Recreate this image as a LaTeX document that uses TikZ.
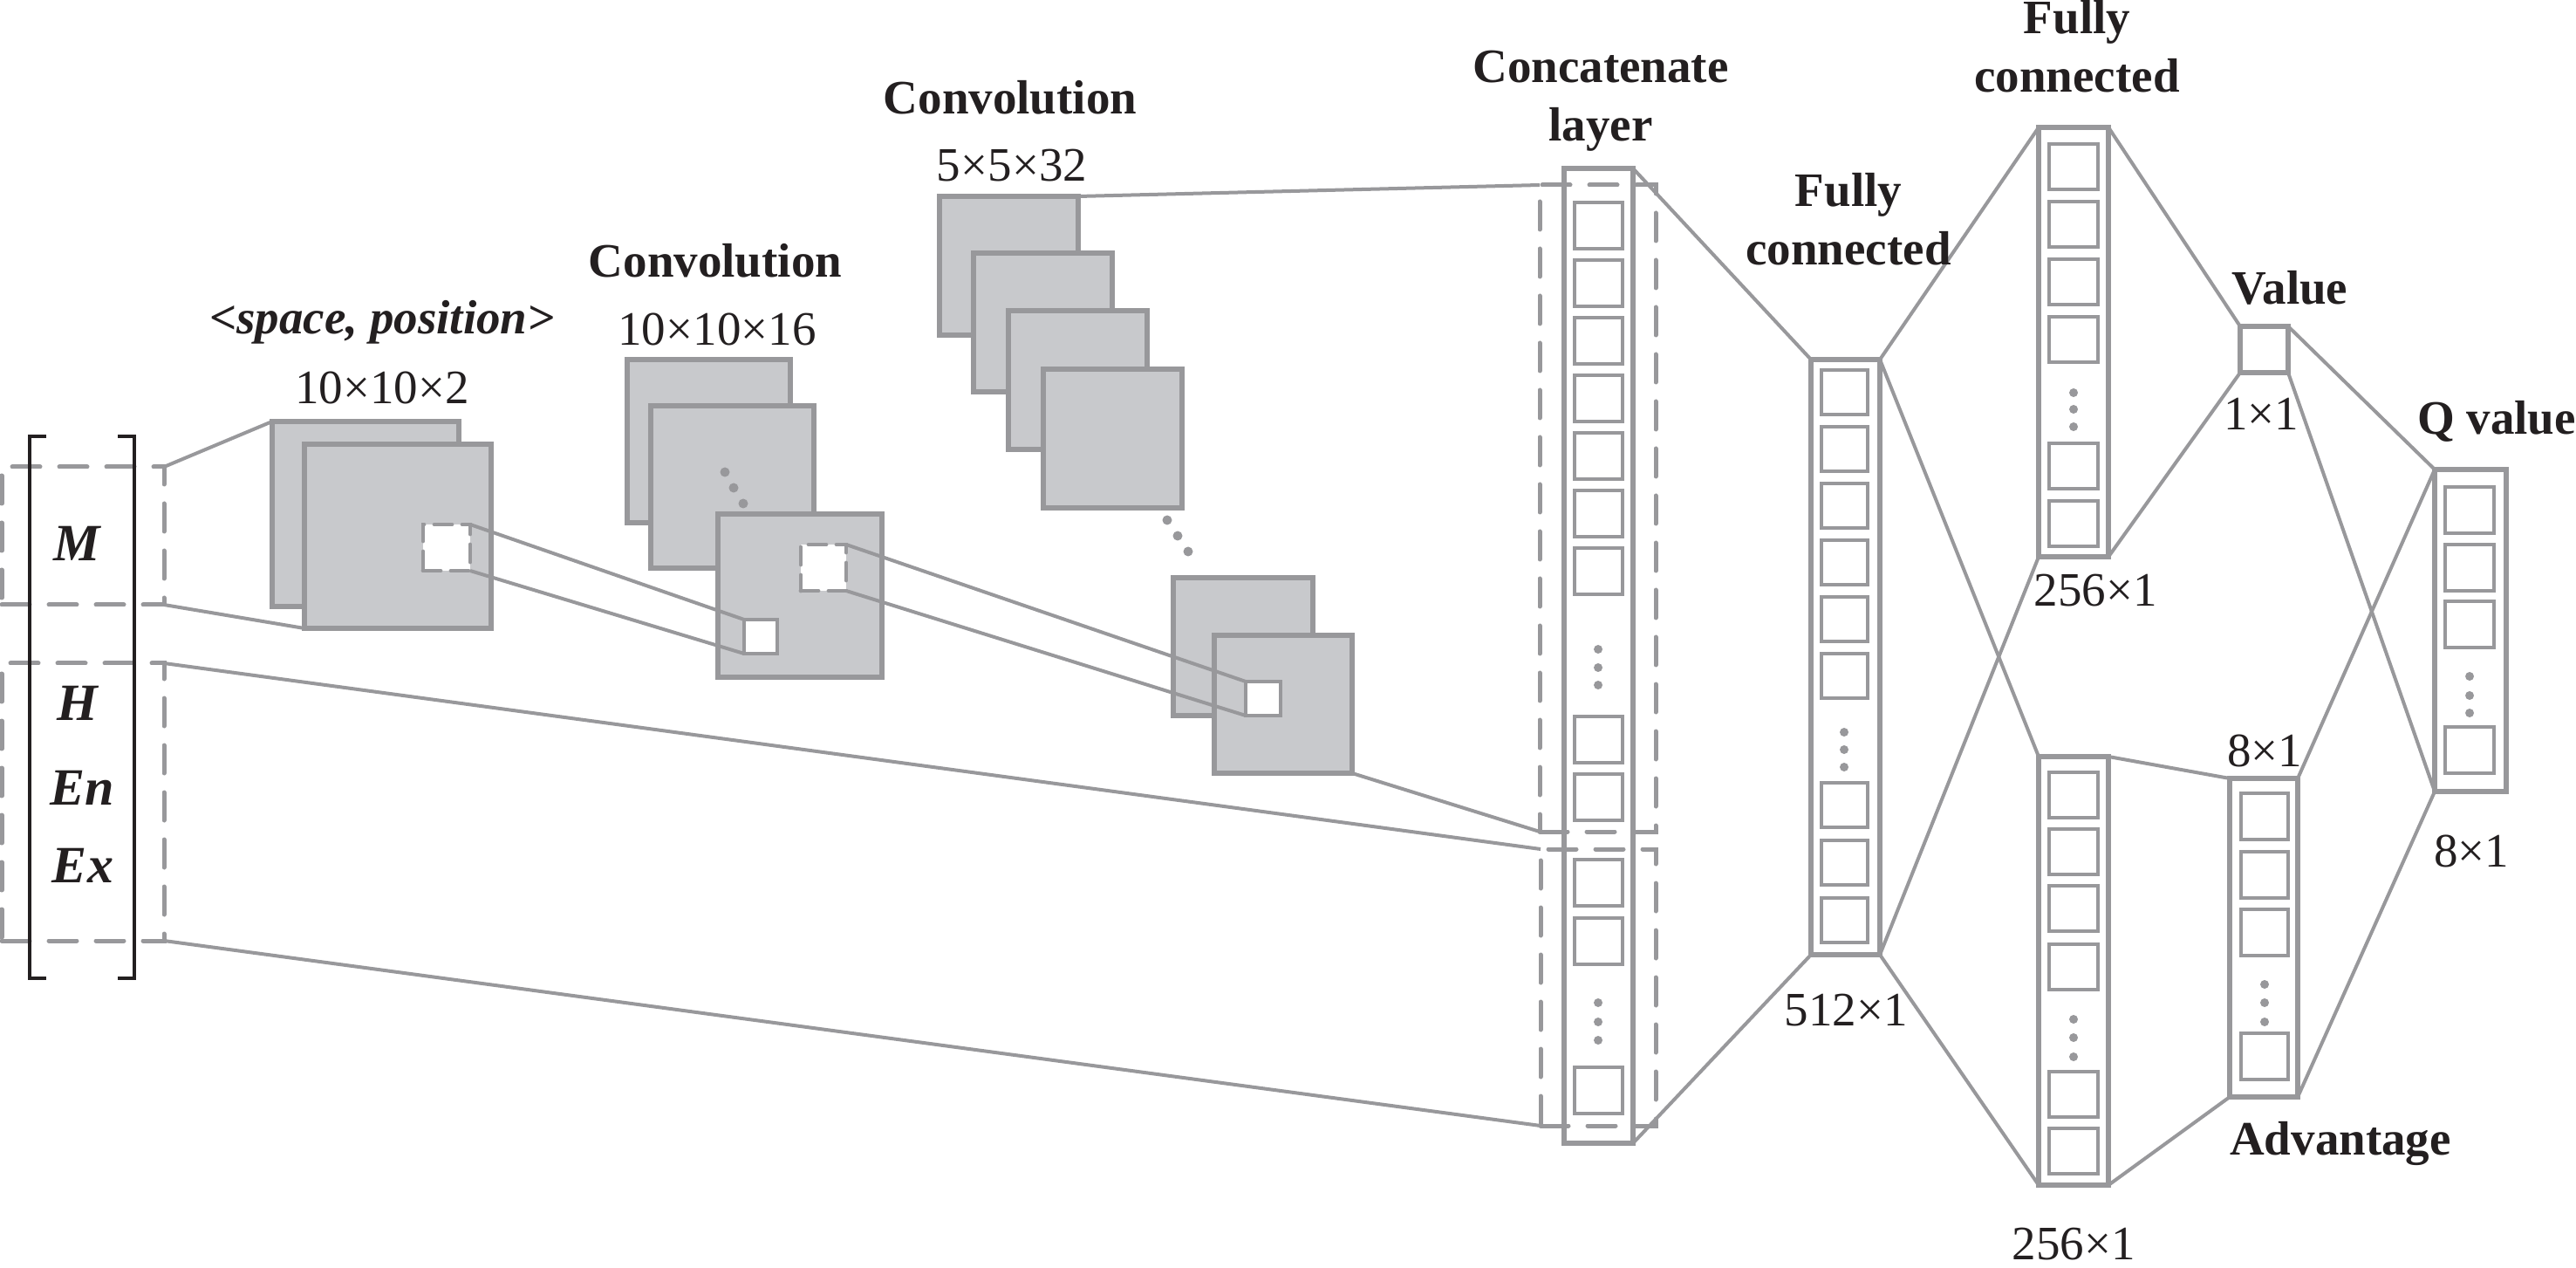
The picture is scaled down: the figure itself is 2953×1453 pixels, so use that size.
\documentclass[tikz,border=0pt]{standalone}
\usepackage{fontspec}
\setmainfont{Liberation Serif}
\usetikzlibrary{fit}
\definecolor{lgray}{RGB}{152,152,155}
\definecolor{mfill}{RGB}{200,201,204}
\definecolor{ink}{RGB}{35,31,32}
\tikzset{every picture/.style={line width=1pt}}

\begin{document}
\begin{tikzpicture}[x=0.25pt,y=0.25pt,yscale=-1,xscale=1,
  conn/.style={draw=lgray,line width=1pt},
  fmap/.style={draw=lgray,fill=mfill,line width=1.3pt,inner sep=0pt,outer sep=0pt},
  col/.style={draw=lgray,fill=white,line width=1.5pt,inner sep=0pt,outer sep=0pt},
  cell/.style={draw=lgray,fill=white,line width=1pt,inner sep=0pt,outer sep=0pt},
  dbox/.style={draw=lgray,line width=1.25pt,line cap=round,dash pattern=on 8pt off 5.5pt,inner sep=0pt,outer sep=0pt},
  win/.style={draw=lgray,fill=white,line width=1.2pt,inner sep=0pt,outer sep=0pt},
  dwin/.style={win,line cap=round,dash pattern=on 5pt off 3pt},
  lbl/.style={text=ink,inner sep=0pt,font=\fontsize{13.75}{16.75}\selectfont},
  ttl/.style={lbl,align=center,font=\fontsize{13.75}{16.75}\selectfont\bfseries},
  sym/.style={lbl,font=\fontsize{15}{18}\selectfont\bfseries\itshape},
]
%uncomment if require: \path (0,1453); %set diagram left start at 0, and has height of 1453
\useasboundingbox (0,0) rectangle (2953,1453);

% Input groups and bracket
\node[dbox, fit={(2,535) (188,693)}] (mbox) {};
\node[dbox, fit={(2,760) (188,1078)}] (hbox) {};
\draw[ink, line width=1pt] (53,500) -- (34,500) -- (34,1121) -- (53,1121);
\draw[ink, line width=1pt] (135,500) -- (154,500) -- (154,1121) -- (135,1121);
\node[sym] (tM) at (88,623) {M};
\node[sym] (tH) at (89,806) {H};
\node[sym] (tEn) at (94,903) {En};
\node[sym] (tEx) at (95,992) {Ex};

% space, position maps
\node[fmap, fit={(312,483) (526,695)}] (in1b) {};
\node[fmap, fit={(349,509) (563,720)}] (in1f) {};
\node[dwin, fit={(485,601) (539,654)}] (in1w) {};

% Convolution 10x10x16
\node[fmap, fit={(719,412) (906,599)}] (c1a) {};
\node[fmap, fit={(746,465) (933,651)}] (c1b) {};
\foreach \x/\y in {831/541,841/559,852/577} \fill[lgray] (\x,\y) circle (5.5);
\node[fmap, fit={(823,589) (1011,776)}] (c1f) {};
\node[win, fit={(853,710) (891,749)}] (c1v) {};
\node[dwin, fit={(918,624) (970,677)}] (c1w) {};

% Convolution 5x5x32
\foreach \i/\x/\y in {1/1077/225,2/1116/290,3/1156/356,4/1196/423}
  \node[fmap, fit={(\x,\y) (\x+159,\y+159)}] (c2m\i) {};
\foreach \x/\y in {1338/596,1350/614,1362/632} \fill[lgray] (\x,\y) circle (5.5);
\node[fmap, fit={(1345,662) (1505,820)}] (c2e) {};
\node[fmap, fit={(1392,728) (1550,886)}] (c2f) {};
\node[win, fit={(1428,781) (1468,820)}] (c2v) {};

% Concatenate layer
\node[col, fit={(1793,193) (1872,1310)}] (cat) {};
\foreach \y in {232,298,364,430,496,562,628,821,887,985,1052,1223}
  \node[cell, fit={(1805,\y) (1860,\y+53)}] (cat\y) {};
\foreach \y in {744,765,785,1149,1171,1192} \fill[lgray] (1832,\y) circle (5);
\node[dbox, fit={(1765,212) (1898,953)}] (catup) {};
\node[dbox, fit={(1766,973) (1898,1290)}] (catlo) {};

% Fully connected 512
\node[col, fit={(2076,412) (2155,1094)}] (fc1) {};
\foreach \y in {424,489,554,619,684,749,897,963,1029}
  \node[cell, fit={(2088,\y) (2141,\y+51)}] (fc1\y) {};
\foreach \y in {839,859,879} \fill[lgray] (2114,\y) circle (5);

% Fully connected 256 (value stream)
\node[col, fit={(2337,146) (2417,638)}] (fc2) {};
\foreach \y in {165,231,297,363,508,574}
  \node[cell, fit={(2349,\y) (2405,\y+52)}] (fc2\y) {};
\foreach \y in {450,469,489} \fill[lgray] (2377,\y) circle (5);

% Fully connected 256 (advantage stream)
\node[col, fit={(2337,867) (2417,1358)}] (fc3) {};
\foreach \y in {885,950,1015,1082,1228,1293}
  \node[cell, fit={(2349,\y) (2405,\y+52)}] (fc3\y) {};
\foreach \y in {1168,1189,1211} \fill[lgray] (2377,\y) circle (5);

% Value, Advantage, Q value
\node[col, fit={(2568,374) (2623,427)}] (val) {};
\node[col, fit={(2556,892) (2634,1257)}] (adv) {};
\foreach \y in {909,976,1042,1184}
  \node[cell, fit={(2569,\y) (2623,\y+53)}] (adv\y) {};
\foreach \y in {1128,1149,1171} \fill[lgray] (2596,\y) circle (5);
\node[col, fit={(2791,538) (2873,907)}] (qv) {};
\foreach \y in {558,624,689,833}
  \node[cell, fit={(2803,\y) (2859,\y+53)}] (qv\y) {};
\foreach \y in {775,797,817} \fill[lgray] (2831,\y) circle (5);

% Connectors
\draw[conn] (mbox.north east) -- (in1b.north west);
\draw[conn] (mbox.south east) -- (in1f.south west);
\draw[conn] (in1w.north east) -- (c1v.north west);
\draw[conn] (in1w.south east) -- (c1v.south west);
\draw[conn] (c1w.north east) -- (c2v.north west);
\draw[conn] (c1w.south east) -- (c2v.south west);
\draw[conn] (c2m1.north east) -- (catup.north west);
\draw[conn] (c2f.south east) -- (catup.south west);
\draw[conn] (hbox.north east) -- (catlo.north west);
\draw[conn] (hbox.south east) -- (catlo.south west);
\draw[conn] (cat.north east) -- (fc1.north west);
\draw[conn] (cat.south east) -- (fc1.south west);
\draw[conn] (fc1.north east) -- (fc2.north west);
\draw[conn] (fc1.north east) -- (fc3.north west);
\draw[conn] (fc1.south east) -- (fc2.south west);
\draw[conn] (fc1.south east) -- (fc3.south west);
\draw[conn] (fc2.north east) -- (val.north west);
\draw[conn] (fc2.south east) -- (val.south west);
\draw[conn] (fc3.north east) -- (adv.north west);
\draw[conn] (fc3.south east) -- (adv.south west);
\draw[conn] (val.north east) -- (qv.north west);
\draw[conn] (val.south east) -- (qv.south west);
\draw[conn] (adv.north east) -- (qv.north west);
\draw[conn] (adv.south east) -- (qv.south west);

% Text Node
\node[ttl] (tIn) at (438,369) {\itshape\textless space, position\textgreater};
\node[lbl] (dIn) at (438,444) {10×10×2};
\node[ttl] (tC1) at (820,299) {Convolution};
\node[lbl] (dC1) at (822,377) {10×10×16};
\node[ttl] (tC2) at (1158,112) {Convolution};
\node[lbl] (dC2) at (1160,190) {5×5×32};
\node[ttl] (tCat) at (1835,116) {Concatenate\\layer};
\node[ttl] (tFc1) at (2119,251) {Fully\\connected};
\node[lbl] (dFc1) at (2116,1158) {512×1};
\node[ttl] (tFc2) at (2381,53) {Fully\\connected};
\node[lbl] (dFc2) at (2402,677) {256×1};
\node[lbl] (dFc3) at (2377,1426) {256×1};
\node[ttl] (tVal) at (2625,330) {Value};
\node[lbl] (dVal) at (2592,474) {1×1};
\node[lbl] (dAdv) at (2596,860) {8×1};
\node[ttl] (tAdv) at (2683,1310) {Advantage};
\node[ttl] (tQ) at (2862,483) {Q value};
\node[lbl] (dQ) at (2833,975) {8×1};

\end{tikzpicture}
\end{document}
